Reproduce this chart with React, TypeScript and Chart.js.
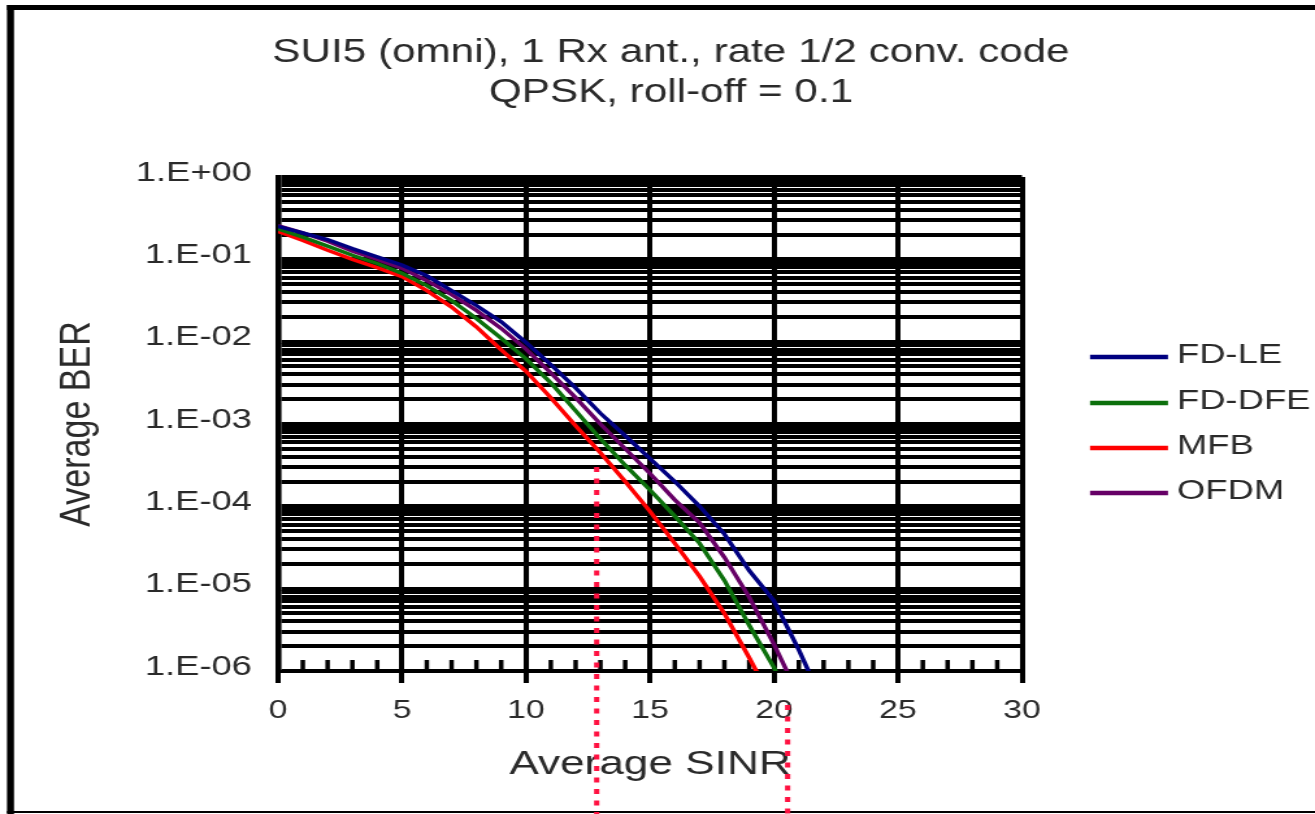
import React, { useEffect, useRef } from 'react';
import { Chart, registerables } from 'chart.js';

Chart.register(...registerables);

// ---------- page geometry (the source image is stretched horizontally) ----------
const PAGE_W = 1315;
const PAGE_H = 814;
const STRETCH = 1.3;
const CANVAS_W = Math.round(PAGE_W / STRETCH);
const K = PAGE_W / CANVAS_W;
const px = (realX: number) => realX / K;

// ---------- texts ----------
const TITLE_LINES = ['SUI5 (omni), 1 Rx ant., rate 1/2 conv. code', 'QPSK, roll-off = 0.1'];
const X_TITLE = 'Average SINR';
const Y_TITLE = 'Average BER';

// ---------- data ----------
const SERIES_NAMES = ['FD-LE', 'FD-DFE', 'MFB', 'OFDM'];
const SERIES_COLORS = ['#000080', '#0c700c', '#ff0000', '#660066'];

const SNR_DB = [0, 1, 2, 3, 4, 5, 6, 7, 8, 9, 10, 11, 12, 13, 14, 15, 16, 17, 18, 19, 20, 21, 22];

const BER_FD_LE = [0.251, 0.209, 0.174, 0.135, 0.107, 0.0851, 0.0631, 0.0417, 0.0275, 0.0174, 0.00977, 0.00525, 0.00275, 0.00135, 0.00072, 0.00038, 0.0002, 0.0001, 4.6e-5, 1.66e-5, 7.1e-6, 1.8e-6, 4.0e-7];
const BER_FD_DFE = [0.234, 0.186, 0.145, 0.112, 0.0891, 0.0676, 0.0479, 0.0316, 0.0191, 0.011, 0.00617, 0.00316, 0.00145, 0.00066, 0.000316, 0.000158, 7.6e-5, 3.55e-5, 1.26e-5, 3.6e-6, 1.1e-6, 2.5e-7];
const BER_MFB = [0.219, 0.17, 0.129, 0.1, 0.0794, 0.0617, 0.0417, 0.0263, 0.0151, 0.00794, 0.00437, 0.00209, 0.000955, 0.000447, 0.0002, 8.7e-5, 3.55e-5, 1.41e-5, 5.0e-6, 1.45e-6, 4.0e-7];
const BER_OFDM = [0.257, 0.209, 0.166, 0.126, 0.1, 0.0776, 0.055, 0.0372, 0.024, 0.0145, 0.00813, 0.00417, 0.00209, 0.001, 0.0005, 0.000251, 0.00012, 6.3e-5, 2.4e-5, 7.9e-6, 2.1e-6, 5.0e-7];

const X_TICKS = [0, 5, 10, 15, 20, 25, 30];
const X_MINOR_TICKS = [1, 2, 3, 4, 6, 7, 8, 9, 11, 12, 13, 14, 16, 17, 18, 19, 21, 22, 23, 24, 26, 27, 28, 29];
const Y_DECADES = [1, 0.1, 0.01, 0.001, 0.0001, 0.00001, 0.000001];
const Y_TICK_LABELS = ['1.E+00', '1.E-01', '1.E-02', '1.E-03', '1.E-04', '1.E-05', '1.E-06'];
const Y_MINOR_MULTIPLIERS = [1, 2, 3, 4, 5, 6, 7, 8, 9];

// vertical dotted markers (SINR values)
const MARKER_SNR = [12.85, 20.55];
const MARKER_START_BER = 3e-4;

const FONT = '"Liberation Sans", Arial, sans-serif';
const TEXT_COLOR = '#2a2a2a';

const BER_SERIES = [BER_FD_LE, BER_FD_DFE, BER_MFB, BER_OFDM];

const Y_GRID_VALUES: number[] = (() => {
  const vals: number[] = [];
  Y_DECADES.slice(1).forEach((d) => {
    Y_MINOR_MULTIPLIERS.forEach((m) => vals.push(m * d));
  });
  vals.push(Y_DECADES[0]);
  return vals.sort((a, b) => a - b);
})();

function decadeLabel(v: number): string {
  for (let i = 0; i < Y_DECADES.length; i++) {
    if (Math.abs(Math.log10(v) - Math.log10(Y_DECADES[i])) < 1e-6) return Y_TICK_LABELS[i];
  }
  return '';
}

// layout (canvas units)
const PLOT_LEFT = px(278);
const PLOT_RIGHT = px(1022);
const PLOT_TOP = 177;
const PLOT_BOTTOM = 671;
const PAD_LEFT = 30;
const PAD_BOTTOM = 20;

const decorPlugin = {
  id: 'decor',
  beforeDatasetsDraw(chart: any) {
    const { ctx, chartArea, scales } = chart;
    const xs = scales.x;
    ctx.save();
    ctx.strokeStyle = '#000';
    ctx.lineWidth = 3.5;
    X_MINOR_TICKS.forEach((v) => {
      const x = xs.getPixelForValue(v);
      ctx.beginPath();
      ctx.moveTo(x, chartArea.bottom);
      ctx.lineTo(x, chartArea.bottom - 11);
      ctx.stroke();
    });
    ctx.restore();
  },
  afterDraw(chart: any) {
    const { ctx, chartArea, scales } = chart;
    const W = chart.width;
    const H = chart.height;
    ctx.save();
    // frame
    ctx.fillStyle = '#000';
    ctx.fillRect(px(7), 5, W - px(7), 5);
    ctx.fillRect(px(7), 5, px(14) - px(7), H - 5);
    ctx.fillRect(px(7), H - 3, W - px(7), 2);

    // title
    ctx.fillStyle = TEXT_COLOR;
    ctx.font = `32.5px ${FONT}`;
    ctx.textAlign = 'center';
    ctx.textBaseline = 'middle';
    ctx.fillText(TITLE_LINES[0], px(671), 53);
    ctx.fillText(TITLE_LINES[1], px(671), 93);

    // legend
    const rows = [357, 403, 448, 493];
    chart.data.datasets.forEach((ds: any, i: number) => {
      const y = rows[i];
      ctx.strokeStyle = ds.borderColor;
      ctx.lineWidth = 4.5;
      ctx.beginPath();
      ctx.moveTo(px(1090), y);
      ctx.lineTo(px(1168), y);
      ctx.stroke();
      ctx.fillStyle = TEXT_COLOR;
      ctx.font = `28px ${FONT}`;
      ctx.textAlign = 'left';
      ctx.textBaseline = 'middle';
      ctx.fillText(ds.label, px(1177), y - 2);
    });

    // dotted red markers
    ctx.strokeStyle = '#ff1040';
    ctx.lineWidth = 4;
    ctx.setLineDash([5, 6.5]);
    MARKER_SNR.forEach((s, i) => {
      const x = scales.x.getPixelForValue(s);
      const y0 = i === 0 ? scales.y.getPixelForValue(MARKER_START_BER) : chartArea.bottom + 34;
      ctx.beginPath();
      ctx.moveTo(x, y0);
      ctx.lineTo(x, H);
      ctx.stroke();
    });
    ctx.restore();
  },
};

export default function App() {
  const canvasRef = useRef<HTMLCanvasElement | null>(null);

  useEffect(() => {
    const canvas = canvasRef.current;
    if (!canvas) return;
    const datasets = SERIES_NAMES.map((name, i) => ({
      label: name,
      data: BER_SERIES[i].map((b, j) => ({ x: SNR_DB[j], y: b })),
      borderColor: SERIES_COLORS[i],
      backgroundColor: SERIES_COLORS[i],
      borderWidth: 3.5,
      pointRadius: 0,
      tension: 0,
      fill: false,
      clip: 0,
    }));

    const chart = new Chart(canvas, {
      type: 'line',
      data: { datasets },
      plugins: [decorPlugin],
      options: {
        animation: false,
        responsive: false,
        devicePixelRatio: 1,
        events: [],
        layout: {
          padding: {
            left: PAD_LEFT,
            top: PLOT_TOP,
            right: CANVAS_W - PLOT_RIGHT,
            bottom: PAD_BOTTOM,
          },
        },
        plugins: {
          legend: { display: false },
          title: { display: false },
          tooltip: { enabled: false },
        },
        scales: {
          x: {
            type: 'linear',
            min: 0,
            max: 30,
            afterBuildTicks: (s: any) => {
              s.ticks = X_TICKS.map((v) => ({ value: v }));
            },
            afterFit: (s: any) => {
              s.height = PAGE_H - PAD_BOTTOM - PLOT_BOTTOM;
            },
            grid: { color: '#000', lineWidth: 4, drawTicks: true, tickLength: 12, tickWidth: 4, tickColor: '#000' },
            border: { display: true, color: '#000', width: 3 },
            ticks: {
              autoSkip: false,
              maxRotation: 0,
              padding: 12,
              color: TEXT_COLOR,
              font: { family: FONT, size: 26 },
            },
            title: {
              display: true,
              text: X_TITLE,
              color: TEXT_COLOR,
              font: { family: FONT, size: 34 },
              padding: { top: 0, bottom: 9 },
            },
          },
          y: {
            type: 'logarithmic',
            min: 1e-6,
            max: 1,
            afterBuildTicks: (s: any) => {
              s.ticks = Y_GRID_VALUES.map((v) => ({ value: v }));
            },
            afterFit: (s: any) => {
              s.width = PLOT_LEFT - PAD_LEFT;
            },
            grid: { color: '#000', lineWidth: 4, drawTicks: false },
            border: { display: true, color: '#000', width: 4.6 },
            ticks: {
              autoSkip: false,
              padding: 20,
              labelOffset: -4,
              color: TEXT_COLOR,
              font: { family: FONT, size: 28 },
              callback: (v: any) => decadeLabel(Number(v)),
            },
            title: {
              display: true,
              text: Y_TITLE,
              color: TEXT_COLOR,
              font: { family: FONT, size: 34 },
              padding: { top: 9, bottom: 0 },
            },
          },
        },
      } as any,
    });
    return () => chart.destroy();
  }, []);

  return (
    <div style={{ position: 'absolute', left: 0, top: 0, width: PAGE_W, height: PAGE_H, background: '#fff' }}>
      <canvas
        ref={canvasRef}
        width={CANVAS_W}
        height={PAGE_H}
        style={{ width: `${PAGE_W}px`, height: `${PAGE_H}px`, display: 'block' }}
      />
    </div>
  );
}
